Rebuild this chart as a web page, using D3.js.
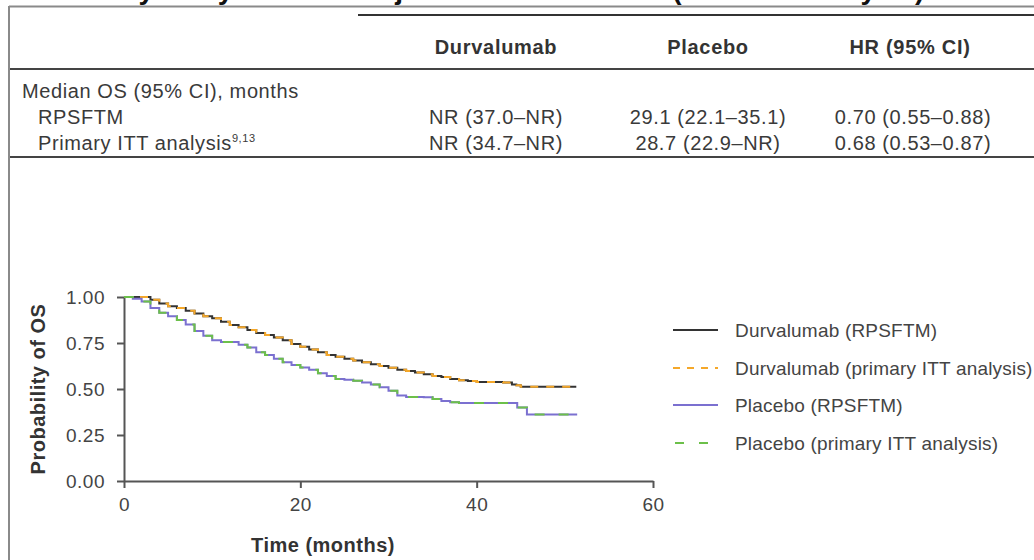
<!DOCTYPE html>
<html>
<head>
<meta charset="utf-8">
<script src="https://cdn.jsdelivr.net/npm/d3@7"></script>
<style>
  body { margin: 0; background: #fff; }
  svg { display: block; font-family: "Liberation Sans", Arial, sans-serif; }
  .tbl { fill: #3a3a3a; font-size: 20px; letter-spacing: 0.6px; }
  .hdr { fill: #333; font-size: 20px; font-weight: bold; letter-spacing: 0.7px; }
  .axis text { fill: #444; font-size: 19px; letter-spacing: 0.5px; font-family: "Liberation Sans", Arial, sans-serif; }
  .axis path, .axis line { stroke: #555; stroke-width: 2px; }
  .axisTitle { fill: #333; font-size: 20px; font-weight: bold; letter-spacing: 0.5px; }
  .legendLabel { fill: #444; font-size: 19px; letter-spacing: 0.2px; }
</style>
</head>
<body>
<div id="graphic"></div>
<script>
// table content
const tableHeaders = ['Durvalumab', 'Placebo', 'HR (95% CI)'];
const rowLabels = ['Median OS (95% CI), months', 'RPSFTM', 'Primary ITT analysis'];
const durvaValues = ['', 'NR (37.0–NR)', 'NR (34.7–NR)'];
const placeboValues = ['', '29.1 (22.1–35.1)', '28.7 (22.9–NR)'];
const hrValues = ['', '0.70 (0.55–0.88)', '0.68 (0.53–0.87)'];

// KM curves
const durvaTime = [0, 2.5, 3, 4, 5, 6, 7, 8, 9, 10, 11, 12, 13, 14, 15, 16, 17, 18, 19, 20, 21, 22, 23, 24, 25, 26, 27, 28, 29, 30, 31, 32, 33, 34, 35, 36, 37, 38, 39, 40, 42, 43, 44, 44.5, 45, 47, 49, 51.3];
const durvaSurv = [1, 1, 0.985, 0.965, 0.95, 0.94, 0.925, 0.91, 0.895, 0.885, 0.865, 0.848, 0.835, 0.82, 0.805, 0.793, 0.78, 0.765, 0.745, 0.73, 0.715, 0.70, 0.685, 0.675, 0.665, 0.655, 0.645, 0.635, 0.625, 0.615, 0.605, 0.598, 0.59, 0.58, 0.57, 0.565, 0.555, 0.548, 0.543, 0.538, 0.538, 0.535, 0.525, 0.52, 0.512, 0.512, 0.512, 0.512];
const placeboTime = [0, 1, 2, 3, 4, 5, 6, 7, 8, 9, 10, 11, 12, 13, 14, 15, 16, 17, 18, 19, 20, 21, 22, 23, 24, 25, 26, 27, 28, 29, 30, 31, 32, 34, 35, 36, 37, 38, 40, 42, 44.6, 45.7, 47, 51.4];
const placeboSurv = [1, 0.99, 0.975, 0.94, 0.915, 0.895, 0.875, 0.85, 0.815, 0.79, 0.765, 0.755, 0.755, 0.74, 0.725, 0.70, 0.685, 0.665, 0.645, 0.63, 0.617, 0.605, 0.585, 0.57, 0.555, 0.55, 0.545, 0.535, 0.525, 0.51, 0.49, 0.465, 0.457, 0.455, 0.445, 0.435, 0.428, 0.424, 0.424, 0.424, 0.40, 0.362, 0.362, 0.362];

const xTicks = [0, 20, 40, 60];
const yTicks = [0, 0.25, 0.5, 0.75, 1];

const series = [
  { label: 'Durvalumab (RPSFTM)', time: durvaTime, surv: durvaSurv, colour: '#333333', dash: null },
  { label: 'Durvalumab (primary ITT analysis)', time: durvaTime, surv: durvaSurv, colour: '#f5a82a', dash: '8,8' },
  { label: 'Placebo (RPSFTM)', time: placeboTime, surv: placeboSurv, colour: '#7b70d0', dash: null },
  { label: 'Placebo (primary ITT analysis)', time: placeboTime, surv: placeboSurv, colour: '#6cc04a', dash: '10,14' }
];

const width = 1034, height = 560;
const svg = d3.select('#graphic').append('svg').attr('width', width).attr('height', height);

// cut-off title from the slide above
svg.append('text')
  .attr('x', 14).attr('y', -1)
  .attr('font-size', 28).attr('font-weight', 'bold').attr('fill', '#111')
  .text('Sensitivity analysis of OS adjusted for crossover (RPSFTM analysis)');

// frame
svg.append('line').attr('x1', 9).attr('x2', width).attr('y1', 6.5).attr('y2', 6.5)
  .attr('stroke', '#8a8a8a').attr('stroke-width', 2);
svg.append('line').attr('x1', 9).attr('x2', 9).attr('y1', 6).attr('y2', height)
  .attr('stroke', '#8a8a8a').attr('stroke-width', 2);

// table rules
svg.append('line').attr('x1', 358).attr('x2', width).attr('y1', 15).attr('y2', 15)
  .attr('stroke', '#333').attr('stroke-width', 2);
svg.append('line').attr('x1', 10).attr('x2', width).attr('y1', 69).attr('y2', 69)
  .attr('stroke', '#444').attr('stroke-width', 2);
svg.append('line').attr('x1', 10).attr('x2', width).attr('y1', 157).attr('y2', 157)
  .attr('stroke', '#444').attr('stroke-width', 2);

const colX = [496, 708, 910];
svg.selectAll('text.hdr')
  .data(tableHeaders)
  .join('text')
  .attr('class', 'hdr')
  .attr('x', (d, i) => colX[i])
  .attr('y', 54)
  .attr('text-anchor', 'middle')
  .text((d) => d);

const rowY = [98, 124, 150];
const labels = svg.selectAll('text.rowLabel')
  .data(rowLabels)
  .join('text')
  .attr('class', 'tbl rowLabel')
  .attr('x', (d, i) => (i == 0 ? 22 : 38))
  .attr('y', (d, i) => rowY[i])
  .text((d) => d);
labels.filter((d, i) => i == 2)
  .append('tspan')
  .attr('font-size', 11)
  .attr('dy', -8)
  .text('9,13');

[durvaValues, placeboValues, hrValues].forEach(function (vals, c) {
  svg.selectAll('text.col' + c)
    .data(vals)
    .join('text')
    .attr('class', 'tbl col' + c)
    .attr('x', c == 2 ? 913 : colX[c])
    .attr('y', (d, i) => rowY[i])
    .attr('text-anchor', 'middle')
    .text((d) => d);
});

// chart
const margin = { left: 124, top: 297, right: 653, bottom: 481 };
const x = d3.scaleLinear().domain([0, 60]).range([margin.left, margin.right]);
const y = d3.scaleLinear().domain([0, 1]).range([margin.bottom, margin.top]);

svg.append('g')
  .attr('class', 'axis')
  .attr('transform', 'translate(0,' + margin.bottom + ')')
  .call(d3.axisBottom(x).tickValues(xTicks).tickSize(7).tickSizeOuter(0).tickPadding(5))
  .selectAll('text').attr('dy', '0.95em');

svg.append('g')
  .attr('class', 'axis')
  .attr('transform', 'translate(' + margin.left + ',0)')
  .call(d3.axisLeft(y).tickValues(yTicks).tickFormat(d3.format('.2f')).tickSize(7).tickSizeOuter(0).tickPadding(12));

const line = d3.line()
  .x((d) => x(d[0]))
  .y((d) => y(d[1]))
  .curve(d3.curveStepAfter);

svg.selectAll('path.km')
  .data(series)
  .join('path')
  .attr('class', 'km')
  .attr('fill', 'none')
  .attr('stroke', (d) => d.colour)
  .attr('stroke-width', 2)
  .attr('stroke-dasharray', (d) => d.dash)
  .attr('d', (d) => line(d.time.map((t, i) => [t, d.surv[i]])));

svg.append('text')
  .attr('class', 'axisTitle')
  .attr('x', 323)
  .attr('y', 552)
  .attr('text-anchor', 'middle')
  .text('Time (months)');

svg.append('text')
  .attr('class', 'axisTitle')
  .attr('transform', 'translate(45,389) rotate(-90)')
  .attr('text-anchor', 'middle')
  .attr('letter-spacing', '1.2px')
  .text('Probability of OS');

// legend
const legendY = [330, 368, 405, 443];
const legendItem = svg.selectAll('g.legend--item')
  .data(series)
  .join('g')
  .attr('class', 'legend--item')
  .attr('transform', (d, i) => 'translate(673,' + legendY[i] + ')');

legendItem.append('line')
  .attr('x1', (d, i) => (i == 3 ? 2 : 0))
  .attr('x2', 45)
  .attr('stroke', (d) => d.colour)
  .attr('stroke-width', 2)
  .attr('stroke-dasharray', (d, i) => (i == 1 ? '7,7' : i == 3 ? '9,15' : null));

legendItem.append('text')
  .attr('class', 'legendLabel')
  .attr('x', 62)
  .attr('y', 7)
  .text((d) => d.label);
</script>
</body>
</html>
